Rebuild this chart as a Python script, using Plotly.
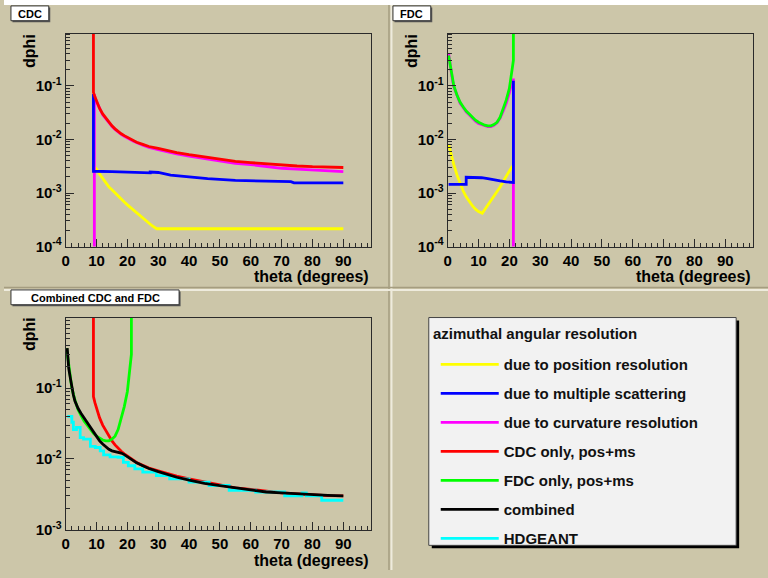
import plotly.graph_objects as go

# ---------------- data ----------------
# CDC panel
cdc_pos_theta = [9.5, 10, 11, 12, 13, 14, 15, 16, 17, 18, 19, 20, 22, 24, 26, 28, 29.5, 90]
cdc_pos_dphi = [3.0e-3, 2.8e-3, 2.25e-3, 1.85e-3, 1.55e-3, 1.3e-3, 1.15e-3, 1.0e-3, 8.8e-4, 7.7e-4,
                6.8e-4, 6.0e-4, 4.8e-4, 3.8e-4, 3.0e-4, 2.45e-4, 2.15e-4, 2.15e-4]

cdc_ms_theta = [9.0, 9.0, 15, 20, 25, 27.4, 27.4, 30, 34, 40, 46, 55, 66, 73, 74, 90]
cdc_ms_dphi = [0.071, 2.55e-3, 2.5e-3, 2.42e-3, 2.38e-3, 2.38e-3, 2.47e-3, 2.42e-3, 2.15e-3, 1.98e-3,
               1.85e-3, 1.72e-3, 1.66e-3, 1.63e-3, 1.55e-3, 1.55e-3]

cdc_curv_theta = [9.3, 9.3, 9.5, 10, 11, 12, 13, 14, 15, 16, 17, 18, 19, 20, 22, 25, 27, 30, 33, 36,
                  40, 45, 50, 55, 60, 65, 70, 75, 80, 85, 90]
cdc_curv_dphi = [1e-6, 0.07, 0.061, 0.051, 0.037, 0.029, 0.0245, 0.0205, 0.0176, 0.0154, 0.0137, 0.0125,
                 0.0115, 0.0107, 0.0093, 0.0078, 0.0071, 0.0065, 0.0059, 0.0054, 0.0049, 0.0044, 0.0040,
                 0.0036, 0.0034, 0.0031, 0.0029, 0.0028, 0.0027, 0.0026, 0.0025]

cdc_tot_theta = [9.0, 9.0, 9.5, 10, 11, 12, 13, 14, 15, 16, 17, 18, 19, 20, 21, 22, 23, 25, 27, 30, 33,
                 36, 40, 45, 50, 55, 60, 65, 70, 75, 80, 85, 90]
cdc_tot_dphi = [20.0, 0.076, 0.062, 0.052, 0.038, 0.030, 0.025, 0.021, 0.018, 0.0158, 0.0140, 0.0128,
                0.0118, 0.0110, 0.0102, 0.0095, 0.0089, 0.0081, 0.0074, 0.0068, 0.0062, 0.0057, 0.0052,
                0.0047, 0.0043, 0.0039, 0.0037, 0.0035, 0.0033, 0.0032, 0.0031, 0.00302, 0.0030]

# FDC panel
fdc_pos_theta = [0.3, 1, 2, 3, 4, 5, 6, 7, 8, 9, 10, 11.2, 12, 13, 14, 15, 16, 17, 18, 19, 20, 21]
fdc_pos_dphi = [8.1e-3, 5.5e-3, 3.4e-3, 2.2e-3, 1.5e-3, 1.1e-3, 8.5e-4, 6.9e-4, 5.8e-4, 5.0e-4, 4.5e-4,
                4.2e-4, 4.9e-4, 5.8e-4, 7.0e-4, 8.6e-4, 1.05e-3, 1.3e-3, 1.65e-3, 2.1e-3, 2.6e-3, 3.2e-3]

fdc_ms_theta = [0.3, 6, 6, 7, 10, 11, 13, 15, 17, 19, 21, 21.3, 21.3]
fdc_ms_dphi = [1.45e-3, 1.45e-3, 1.97e-3, 1.97e-3, 1.97e-3, 1.93e-3, 1.85e-3, 1.75e-3, 1.68e-3, 1.62e-3,
               1.57e-3, 1.57e-3, 0.125]

fdc_curv_theta = [0.3, 1, 1.5, 2, 3, 4, 5, 6, 7, 8, 9, 10, 11, 12, 13, 14, 15, 16, 17, 18, 19, 20,
                  20.5, 21, 21.3, 21.3]
fdc_curv_dphi = [0.40, 0.20, 0.135, 0.097, 0.066, 0.048, 0.040, 0.033, 0.029, 0.025, 0.022, 0.020, 0.019,
                 0.018, 0.0175, 0.0175, 0.0185, 0.0205, 0.025, 0.034, 0.048, 0.075, 0.10, 0.13, 0.13, 1e-6]

fdc_tot_theta = [0.3, 1, 1.5, 2, 3, 4, 5, 6, 7, 8, 9, 10, 11, 12, 13, 14, 15, 16, 17, 18, 19, 20,
                 20.5, 21, 21.3, 21.3]
fdc_tot_dphi = [0.37, 0.20, 0.14, 0.10, 0.068, 0.050, 0.041, 0.034, 0.030, 0.026, 0.023, 0.021, 0.0195,
                0.0185, 0.018, 0.018, 0.019, 0.021, 0.026, 0.037, 0.055, 0.09, 0.14, 0.22, 0.3, 20.0]

# Combined panel
comb_theta = [0.5, 1, 1.5, 2, 2.5, 3, 4, 5, 6, 7, 8, 9, 10, 11, 12, 13, 14, 15, 16, 17, 18, 19, 20,
              21, 22, 23, 25, 27, 30, 33, 36, 40, 45, 50, 55, 60, 65, 70, 75, 80, 85, 90]
comb_dphi = [0.37, 0.19, 0.14, 0.097, 0.08, 0.066, 0.052, 0.044, 0.038, 0.032, 0.028, 0.024, 0.021,
             0.018, 0.0162, 0.0148, 0.0137, 0.013, 0.0127, 0.0124, 0.0121, 0.0115, 0.0108, 0.0101,
             0.0094, 0.0088, 0.0080, 0.0073, 0.0066, 0.0060, 0.0055, 0.0050, 0.0045, 0.0042, 0.0039,
             0.0036, 0.0034, 0.0033, 0.0032, 0.0031, 0.00305, 0.0030]

hdgeant_theta = [0.5, 2.0, 2.5, 3.5, 4.7, 5.8, 8.0, 9.6, 11.2, 12.3, 14.4, 17.0, 18.7, 20.3, 22.4, 25.0,
                 29.4, 33.7, 40.0, 46.5, 53.0, 61.6, 71.0, 76.6, 78.0, 83.0, 90.0]
hdgeant_dphi = [0.040, 0.033, 0.026, 0.028, 0.020, 0.019, 0.015, 0.0145, 0.013, 0.0114, 0.0107, 0.0105,
                0.0089, 0.0080, 0.0072, 0.0065, 0.0058, 0.0052, 0.0047, 0.0042, 0.0036, 0.0034, 0.0030,
                0.0033, 0.0030, 0.0026, 0.0026]

# tick labels
x_tick_vals = [0, 10, 20, 30, 40, 50, 60, 70, 80, 90]
x_minor_vals = [v for v in range(2, 100, 2) if v % 10]
y_top_ticks = [1e-4, 1e-3, 1e-2, 1e-1]
y_top_text = ["10<sup>-4</sup>", "10<sup>-3</sup>", "10<sup>-2</sup>", "10<sup>-1</sup>"]
y_bot_ticks = [1e-3, 1e-2, 1e-1]
y_bot_text = ["10<sup>-3</sup>", "10<sup>-2</sup>", "10<sup>-1</sup>"]

legend_names = ["due to position resolution", "due to multiple scattering", "due to curvature resolution",
                "CDC only, pos+ms", "FDC only, pos+ms", "combined", "HDGEANT"]

# ---------------- styling ----------------
W, H = 768, 578
BG = "#ccc6a9"
FRAME = "#2a2a2a"
FONT = "Liberation Sans, Arial, Helvetica, sans-serif"
YEL, BLU, MAG, RED, GRN, BLK, CYN = "#ffff00", "#0000ff", "#ff00ff", "#ff0000", "#00ff00", "#000000", "#00ffff"
LW = 2.8


def px(x):
    return x / W


def py(y):
    return 1 - y / H


fig = go.Figure()


def add(xs, ys, color, ax, name, rank, show, shape="linear"):
    fig.add_trace(go.Scatter(
        x=xs, y=ys, mode="lines", line=dict(color=color, width=LW, shape=shape),
        xaxis="x" + ax, yaxis="y" + ax, name=name, legendgroup=name, legendrank=rank,
        showlegend=show, hoverinfo="skip"))


# CDC panel
add(cdc_pos_theta, cdc_pos_dphi, YEL, "", legend_names[0], 1, True)
add(cdc_curv_theta, cdc_curv_dphi, MAG, "", legend_names[2], 3, True)
add(cdc_ms_theta, cdc_ms_dphi, BLU, "", legend_names[1], 2, True)
add(cdc_tot_theta, cdc_tot_dphi, RED, "", legend_names[3], 4, True)
# FDC panel
add(fdc_pos_theta, fdc_pos_dphi, YEL, "2", legend_names[0], 1, False)
add(fdc_curv_theta, fdc_curv_dphi, MAG, "2", legend_names[2], 3, False)
add(fdc_ms_theta, fdc_ms_dphi, BLU, "2", legend_names[1], 2, False)
add(fdc_tot_theta, fdc_tot_dphi, GRN, "2", legend_names[4], 5, True)
# Combined panel
add(cdc_tot_theta, cdc_tot_dphi, RED, "3", legend_names[3], 4, False)
add(fdc_tot_theta, fdc_tot_dphi, GRN, "3", legend_names[4], 5, False)
add(hdgeant_theta, hdgeant_dphi, CYN, "3", legend_names[6], 7, True, shape="hv")
add(comb_theta, comb_dphi, BLK, "3", legend_names[5], 6, True)

tickfont = dict(family=FONT, size=15, color="black", weight="bold")


def xaxis(x0, x1, anchor):
    return dict(domain=[px(x0), px(x1)], anchor=anchor, range=[0, 99], tickmode="array",
                tickvals=x_tick_vals, ticks="inside", ticklen=8, tickwidth=1, tickcolor=FRAME,
                minor=dict(tickmode="array", tickvals=x_minor_vals, ticks="inside", ticklen=4,
                           tickcolor=FRAME, tickwidth=1, showgrid=False),
                showgrid=False, zeroline=False, showline=True, mirror=True, linecolor=FRAME,
                linewidth=1, tickfont=tickfont, fixedrange=True)


def minor_vals(lo, hi):
    vals = []
    for e in range(lo, hi):
        for m in range(2, 10):
            vals.append(m * 10.0 ** e)
    return vals


def yaxis(y0, y1, anchor, rng, tv, tt, lo):
    return dict(domain=[py(y1), py(y0)], anchor=anchor, type="log", range=rng, tickmode="array",
                tickvals=tv, ticktext=tt, ticks="inside", ticklen=8, tickwidth=1, tickcolor=FRAME,
                minor=dict(tickmode="array", tickvals=minor_vals(lo, 0), ticks="inside", ticklen=4,
                           tickcolor=FRAME, tickwidth=1, showgrid=False),
                showgrid=False, zeroline=False, showline=True, mirror=True, linecolor=FRAME,
                linewidth=1, tickfont=tickfont, fixedrange=True)


shapes = []
# white strip at top of canvas
shapes.append(dict(type="rect", xref="paper", yref="paper", x0=0, x1=1, y0=py(5), y1=1,
                   fillcolor="white", line=dict(width=0), layer="below"))
# pad separators
shapes.append(dict(type="line", xref="paper", yref="paper", x0=px(387), x1=px(387), y0=0, y1=py(5),
                   line=dict(color="#a59d80", width=1.5), layer="below"))
shapes.append(dict(type="line", xref="paper", yref="paper", x0=px(389.5), x1=px(389.5), y0=0, y1=py(5),
                   line=dict(color="#eeebdd", width=2), layer="below"))
shapes.append(dict(type="line", xref="paper", yref="paper", x0=0, x1=1, y0=py(291.5), y1=py(291.5),
                   line=dict(color="#a59d80", width=1.5), layer="below"))
shapes.append(dict(type="line", xref="paper", yref="paper", x0=0, x1=1, y0=py(294), y1=py(294),
                   line=dict(color="#eeebdd", width=2), layer="below"))
# legend box with shadow
shapes.append(dict(type="rect", xref="paper", yref="paper", x0=px(430), x1=px(739), y0=py(556), y1=py(325),
                   fillcolor="black", line=dict(width=0), layer="below"))
shapes.append(dict(type="rect", xref="paper", yref="paper", x0=px(427), x1=px(736), y0=py(553), y1=py(322),
                   fillcolor="#f2f2f2", line=dict(color="#444444", width=1), layer="below"))

annotations = []


def title_box(text, x0, x1, y0, y1):
    shapes.append(dict(type="rect", xref="paper", yref="paper", x0=px(x0 + 1.5), x1=px(x1 + 1.5),
                       y0=py(y1 + 1.5), y1=py(y0 + 1.5), fillcolor="#555555", line=dict(width=0),
                       layer="above"))
    shapes.append(dict(type="rect", xref="paper", yref="paper", x0=px(x0), x1=px(x1), y0=py(y1), y1=py(y0),
                       fillcolor="white", line=dict(color="#333333", width=1), layer="above"))
    annotations.append(dict(text=text, xref="paper", yref="paper", x=px((x0 + x1) / 2),
                            y=py((y0 + y1) / 2 + 1), xanchor="center", yanchor="middle", showarrow=False,
                            font=dict(family=FONT, size=11, color="black", weight="bold")))


title_box("CDC", 7, 45, 6, 21)
title_box("FDC", 391, 429, 6, 21)
title_box("Combined CDC and FDC", 7, 176, 294, 309)

axfont = dict(family=FONT, size=16, color="black", weight="bold")
for (xr, yc) in [(369, 280), (753, 280), (369, 568)]:
    annotations.append(dict(text="theta (degrees)", xref="paper", yref="paper", x=px(xr), y=py(yc),
                            xanchor="right", yanchor="middle", showarrow=False, font=axfont))
for (xc, yt) in [(25.5, 32), (409.5, 32), (25.5, 319)]:
    annotations.append(dict(text="dphi", xref="paper", yref="paper", x=px(xc), y=py(yt), textangle=-90,
                            xanchor="center", yanchor="top", showarrow=False, font=axfont))
annotations.append(dict(text="azimuthal angular resolution", xref="paper", yref="paper", x=px(429.5),
                        y=py(338), xanchor="left", yanchor="middle", showarrow=False,
                        font=dict(family=FONT, size=15, color="#111111", weight="bold")))

fig.update_layout(
    width=W, height=H, margin=dict(l=0, r=0, t=0, b=0),
    paper_bgcolor=BG, plot_bgcolor=BG,
    xaxis=xaxis(62, 369, "y"), yaxis=yaxis(34, 250, "x", [-4, -0.02], y_top_ticks, y_top_text, -4),
    xaxis2=xaxis(446, 753, "y2"), yaxis2=yaxis(34, 250, "x2", [-4, -0.02], y_top_ticks, y_top_text, -4),
    xaxis3=xaxis(62, 369, "y3"), yaxis3=yaxis(322, 537, "x3", [-3, 0], y_bot_ticks, y_bot_text, -3),
    shapes=shapes, annotations=annotations,
    legend=dict(x=px(434), y=py(353), xanchor="left", yanchor="top", bgcolor="rgba(0,0,0,0)",
                borderwidth=0, traceorder="grouped", tracegroupgap=6.5, itemwidth=58,
                font=dict(family=FONT, size=15, color="#111111", weight="bold")),
    showlegend=True,
)

fig.write_html("out.html", config={"displayModeBar": False},
               post_script="document.body.style.margin='0px';document.body.style.overflow='hidden';")
